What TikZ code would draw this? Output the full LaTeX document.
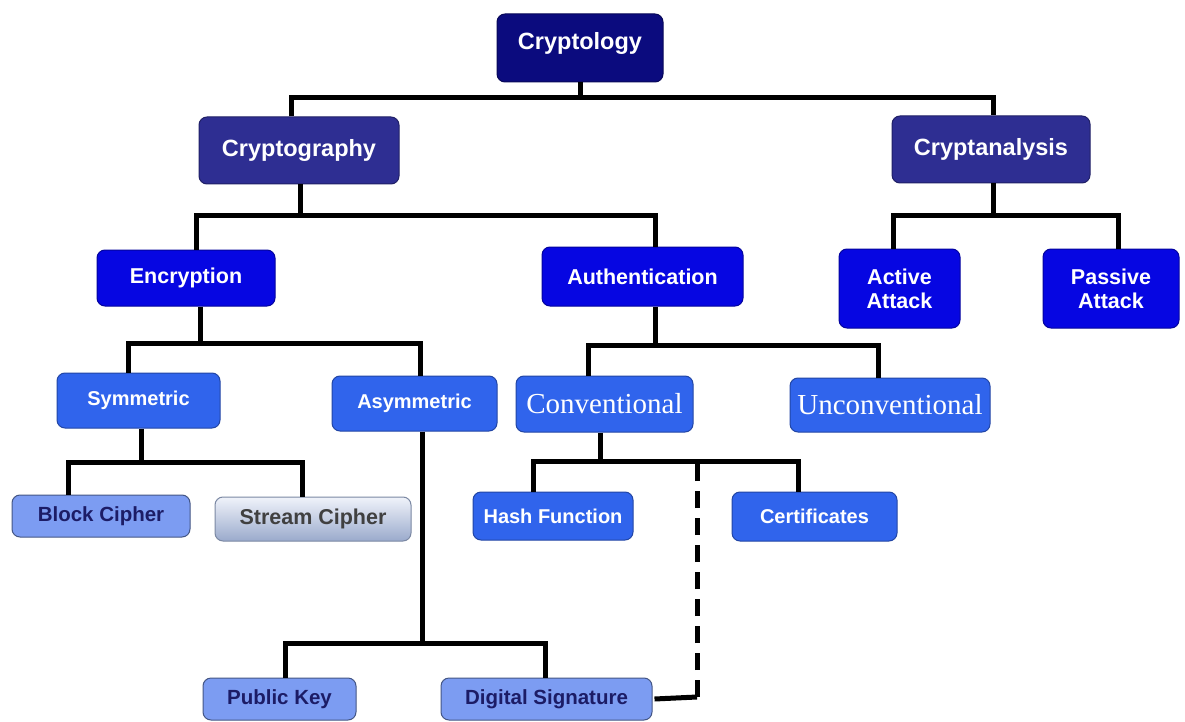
\documentclass[tikz,border=0pt]{standalone}
\usepackage{fontspec}
\setmainfont{Liberation Sans}
\newfontfamily\seriffam{Liberation Serif}
\definecolor{cnavy}{HTML}{0B0B7E}
\definecolor{cindigo}{HTML}{2E2E92}
\definecolor{cblue}{HTML}{0606E2}
\definecolor{croyal}{HTML}{3064EC}
\definecolor{clight}{HTML}{7C9CF2}
\definecolor{ctextdark}{HTML}{1C1C66}
\definecolor{cstreamtop}{HTML}{F0F3FA}
\definecolor{cstreambot}{HTML}{9AAACC}
\tikzset{
  box/.style={rounded corners=8pt, inner sep=0pt, align=center, line width=1pt},
  lvlzero/.style={box, fill=cnavy, draw=cnavy!70!black, text=white, font=\bfseries\fontsize{23.5}{26}\selectfont},
  lvlone/.style={box, fill=cindigo, draw=cindigo!70!black, text=white, font=\bfseries\fontsize{23.5}{26}\selectfont},
  lvltwo/.style={box, fill=cblue, draw=cblue!70!black, text=white, font=\bfseries\fontsize{21.5}{24}\selectfont},
  lvlthree/.style={box, fill=croyal, draw=croyal!70!black, text=white, font=\bfseries\fontsize{20}{22}\selectfont},
  lvlserif/.style={box, fill=croyal, draw=croyal!70!black, text=white, font=\seriffam\fontsize{29}{32}\selectfont},
  lvllight/.style={box, fill=clight, draw=clight!55!black, text=ctextdark, font=\bfseries\fontsize{20.5}{22}\selectfont},
  lvlstream/.style={box, top color=cstreamtop, bottom color=cstreambot, draw=cstreambot!80!black, text=black!75, font=\bfseries\fontsize{21.5}{22}\selectfont},
  conn/.style={draw=black, line width=5pt},
}
\begin{document}
\begin{tikzpicture}[x=1pt,y=-1pt]
\useasboundingbox (0,0) rectangle (1185,722);
\fill[white] (0,0) rectangle (1185,722);

% boxes
\node[lvlzero, minimum width=166pt, minimum height=68pt, text depth=14pt] (cryptology) at (580,48) {Cryptology};
\node[lvlone, minimum width=200pt, minimum height=67pt] (cryptography) at (299,150.5) {Cryptography};
\node[lvlone, minimum width=198pt, minimum height=67pt] (cryptanalysis) at (991,149.5) {Cryptanalysis};
\node[lvltwo, minimum width=178pt, minimum height=56pt] (encryption) at (186,278) {Encryption};
\node[lvltwo, minimum width=201pt, minimum height=59pt] (authentication) at (642.5,276.5) {Authentication};
\node[lvltwo, minimum width=121pt, minimum height=79pt] (active) at (899.5,288.5) {Active\\Attack};
\node[lvltwo, minimum width=136pt, minimum height=79pt] (passive) at (1111,288.5) {Passive\\Attack};
\node[lvlthree, minimum width=163pt, minimum height=55pt] (symmetric) at (138.5,400.5) {Symmetric};
\node[lvlthree, minimum width=165pt, minimum height=55pt] (asymmetric) at (414.5,403.5) {Asymmetric};
\node[lvlserif, minimum width=177pt, minimum height=56pt] (conventional) at (604.5,404) {Conventional};
\node[lvlserif, minimum width=200pt, minimum height=54pt] (unconventional) at (890,405) {Unconventional};
\node[lvllight, minimum width=178pt, minimum height=42pt] (blockcipher) at (101,516) {Block Cipher};
\node[lvlstream, minimum width=196pt, minimum height=44pt] (streamcipher) at (313,519) {Stream Cipher};
\node[lvlthree, minimum width=160pt, minimum height=48pt] (hash) at (553,516) {Hash Function};
\node[lvlthree, minimum width=165pt, minimum height=49pt] (certificates) at (814.5,516.5) {Certificates};
\node[lvllight, minimum width=153pt, minimum height=42pt] (publickey) at (279.5,699) {Public Key};
\node[lvllight, minimum width=211pt, minimum height=42pt] (digsig) at (546.5,699) {Digital Signature};

% junction points
\coordinate (j1) at (580,98);
\coordinate (j2) at (300,215);
\coordinate (j3) at (993,215);
\coordinate (j4) at (200,343);
\coordinate (j5) at (141,462);
\coordinate (j6) at (422,643);
\coordinate (j7) at (655,345);
\coordinate (j8) at (600,461);
\coordinate (j9) at (697,461);
\coordinate (j10) at (697,697);

% connectors
\path[conn] (cryptology.south) -- (j1);
\path[conn] ([xshift=-8pt]cryptography.north) |- (j1) -| ([xshift=2pt]cryptanalysis.north);
\path[conn] ([xshift=1pt]cryptography.south) -- (j2);
\path[conn] ([xshift=10pt]encryption.north) |- (j2) -| ([xshift=12.5pt]authentication.north);
\path[conn] ([xshift=2pt]cryptanalysis.south) -- (j3);
\path[conn] ([xshift=-6.5pt]active.north) |- (j3) -| ([xshift=7pt]passive.north);
\path[conn] ([xshift=14pt]encryption.south) -- (j4);
\path[conn] ([xshift=-10.5pt]symmetric.north) |- (j4) -| ([xshift=5.5pt]asymmetric.north);
\path[conn] ([xshift=2.5pt]symmetric.south) -- (j5);
\path[conn] ([xshift=-33pt]blockcipher.north) |- (j5) -| ([xshift=-11pt]streamcipher.north);
\path[conn] ([xshift=7.5pt]asymmetric.south) -- (j6);
\path[conn] ([xshift=5.5pt]publickey.north) |- (j6) -| ([xshift=-1.5pt]digsig.north);
\path[conn] ([xshift=12.5pt]authentication.south) -- (j7);
\path[conn] ([xshift=-16.5pt]conventional.north) |- (j7) -| ([xshift=-12pt]unconventional.north);
\path[conn] ([xshift=-4.5pt]conventional.south) -- (j8);
\path[conn] ([xshift=-20pt]hash.north) |- (j8) -| ([xshift=-16.5pt]certificates.north);
\path[conn] ([xshift=2pt]digsig.east) -- (j10);
\path[conn, dash pattern=on 17pt off 10pt] (j10) -- (j9);
\end{tikzpicture}
\end{document}
